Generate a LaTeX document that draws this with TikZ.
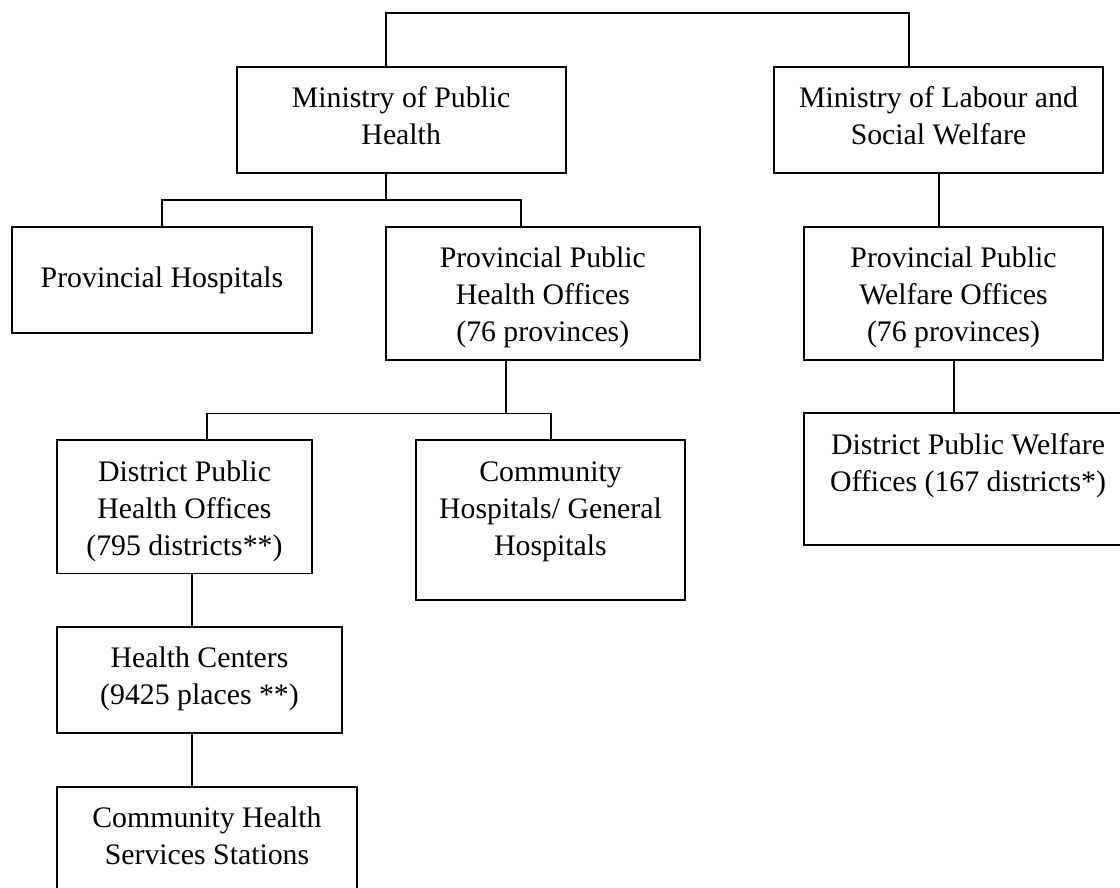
\documentclass[tikz,border=0pt]{standalone}
\usepackage{fontspec}
\setmainfont{Liberation Serif}
\newcommand\bxt[4]{\parbox[c][#2][t]{#1}{\centering\rule{0pt}{#3}#4\par}}
\begin{document}
\begin{tikzpicture}[x=1pt,y=1pt,
  orgbox/.style={draw, line width=1.7pt, inner sep=0pt, outer sep=0pt, rectangle,
    font=\fontsize{29.8pt}{37pt}\selectfont},
  link/.style={line width=1.7pt}]
\useasboundingbox (0,0) rectangle (1120,-887);
\clip (0,0) rectangle (1120,-887);

\node[orgbox] (mph) at (401.2,-120) {\bxt{329pt}{106.6pt}{41pt}{Ministry of Public\\Health}};
\node[orgbox] (mlsw) at (938.5,-120) {\bxt{329pt}{106.6pt}{41pt}{Ministry of Labour and\\Social Welfare}};
\node[orgbox] (ph) at (162,-280) {\bxt{299.4pt}{106.6pt}{61pt}{Provincial Hospitals}};
\node[orgbox] (ppho) at (542.8,-293.5) {\bxt{314.3pt}{133.6pt}{41pt}{Provincial Public\\Health Offices\\(76 provinces)}};
\node[orgbox] (ppwo) at (953.5,-293.4) {\bxt{299pt}{133.3pt}{41pt}{Provincial Public\\Welfare Offices\\(76 provinces)}};
\node[orgbox] (dpho) at (184.5,-506.7) {\bxt{254.4pt}{133.3pt}{41pt}{District Public\\Health Offices\\(795 districts**)}};
\node[orgbox] (chgh) at (550.5,-520) {\bxt{269pt}{160pt}{41pt}{Community\\Hospitals/ General\\Hospitals}};
\node[orgbox] (dpwo) at (968,-479) {\bxt{328pt}{132pt}{41pt}{District Public Welfare\\Offices (167 districts*)}};
\node[orgbox] (hc) at (199.5,-680) {\bxt{284.4pt}{106.6pt}{41pt}{Health Centers\\(9425 places **)}};
\node[orgbox] (chss) at (207,-853.3) {\bxt{299.4pt}{133.3pt}{41pt}{Community Health\\Services Stations}};

\draw[link] ([xshift=149pt]mph.north west) -- ++(0,53.7) -| ([xshift=135pt]mlsw.north west);
\draw[link] ([xshift=149pt]mph.south west) -- ++(0,-27);
\draw[link] ([xshift=150pt]ph.north west) -- ++(0,26.7) -| ([xshift=135pt]ppho.north west);
\draw[link] ([xshift=165pt]mlsw.south west) -- ([xshift=135pt]ppwo.north west);
\draw[link] ([xshift=120pt]ppho.south west) -- ++(0,-53);
\draw[link] ([xshift=149.4pt]dpho.north west) -- ++(0,26.7) -| ([xshift=134.7pt]chgh.north west);
\draw[link] ([xshift=150pt]ppwo.south west) -- ([xshift=150pt]dpwo.north west);
\draw[link] ([xshift=134.7pt]dpho.south west) -- ([xshift=134.7pt]hc.north west);
\draw[link] ([xshift=134.7pt]hc.south west) -- ([xshift=134.7pt]chss.north west);
\end{tikzpicture}
\end{document}
